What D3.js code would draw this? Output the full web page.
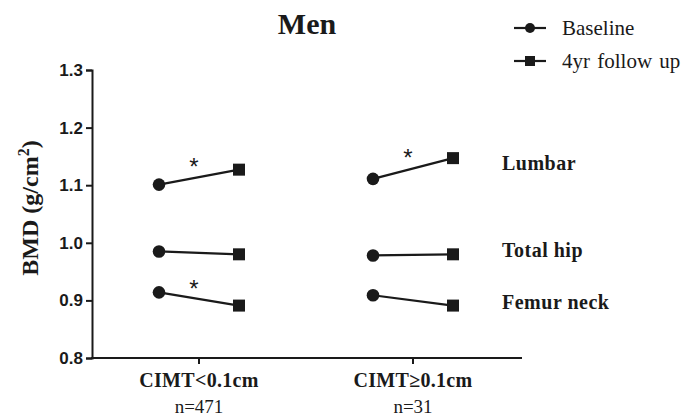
<!DOCTYPE html>
<html>
<head>
<meta charset="utf-8">
<script src="https://cdn.jsdelivr.net/npm/d3@7"></script>
<style>
  body { margin: 0; background: #fff; }
  svg { display: block; }
</style>
</head>
<body>
<script>
// Data
const groups = ["CIMT<0.1cm", "CIMT\u22650.1cm"];
const groupN = ["n=471", "n=31"];
const timepoints = ["Baseline", "4yr follow up"];
const sites = ["Lumbar", "Total hip", "Femur neck"];
// values per group: [baseline, follow-up] for each site
const lumbar = [[1.101, 1.127], [1.111, 1.147]];
const totalHip = [[0.985, 0.980], [0.978, 0.980]];
const femurNeck = [[0.914, 0.891], [0.909, 0.891]];
const significant = [[true, false, true], [true, false, false]];
const yTicks = [0.8, 0.9, 1.0, 1.1, 1.2, 1.3];

const width = 696, height = 419;
const ink = "#1a1a1a";
const serif = "'Liberation Serif', 'Times New Roman', serif";
const sans = "'Liberation Sans', Arial, sans-serif";

const svg = d3.select("body").append("svg")
  .attr("width", width)
  .attr("height", height);

// Scales
const y = d3.scaleLinear().domain([0.8, 1.3]).range([358, 70]);
const x = d3.scalePoint().domain(groups).range([199, 413]);
const offset = d3.scalePoint().domain(timepoints).range([-40, 40]);

// Y axis
const yAxis = svg.append("g")
  .attr("transform", "translate(92,0)")
  .call(d3.axisLeft(y).tickValues(yTicks).tickFormat(d3.format(".1f")).tickSizeOuter(0).tickSize(6));
yAxis.select(".domain").attr("stroke", ink).attr("stroke-width", 2);
yAxis.selectAll(".tick line").attr("stroke", ink).attr("stroke-width", 2);
yAxis.selectAll(".tick text")
  .attr("x", -9)
  .attr("fill", ink)
  .style("font-family", sans)
  .style("font-weight", "bold")
  .style("font-size", "17px");

// X axis
const xAxis = svg.append("g")
  .attr("transform", "translate(0,358)");
xAxis.append("line")
  .attr("x1", 91).attr("x2", 522)
  .attr("stroke", ink).attr("stroke-width", 2);
xAxis.selectAll(".xt")
  .data(groups)
  .enter().append("line")
  .attr("x1", (d) => x(d)).attr("x2", (d) => x(d))
  .attr("y1", 0).attr("y2", 6)
  .attr("stroke", ink).attr("stroke-width", 2);
xAxis.selectAll(".xl")
  .data(groups)
  .enter().append("text")
  .attr("x", (d) => x(d)).attr("y", 29)
  .attr("text-anchor", "middle")
  .attr("fill", ink)
  .style("font-family", serif)
  .style("font-weight", "bold")
  .style("font-size", "20px")
  .style("letter-spacing", "0.3px")
  .text((d) => d);
xAxis.selectAll(".xn")
  .data(groups)
  .enter().append("text")
  .attr("x", (d) => x(d)).attr("y", 55)
  .attr("text-anchor", "middle")
  .attr("fill", ink)
  .style("font-family", serif)
  .style("font-size", "19px")
  .text((d, i) => groupN[i]);

// Y label
const yl = svg.append("text")
  .attr("transform", "translate(38,208) rotate(-90)")
  .attr("text-anchor", "middle")
  .attr("fill", ink)
  .style("font-family", serif)
  .style("font-weight", "bold")
  .style("font-size", "24px");
yl.append("tspan").text("BMD (g/cm");
yl.append("tspan").attr("dy", -9).style("font-size", "16px").text("2");
yl.append("tspan").attr("dy", 9).text(")");

// Title
svg.append("text")
  .attr("x", 307).attr("y", 34)
  .attr("text-anchor", "middle")
  .attr("fill", ink)
  .style("font-family", serif)
  .style("font-weight", "bold")
  .style("font-size", "30px")
  .text("Men");

// Marks
const siteValues = [lumbar, totalHip, femurNeck];
const pairs = [];
siteValues.forEach((vals, s) => {
  groups.forEach((g, gi) => {
    pairs.push({ site: s, group: g, gi: gi, v: vals[gi], sig: significant[gi][s] });
  });
});

const px = (p, t) => x(p.group) + offset(timepoints[t]);

svg.selectAll(".pair")
  .data(pairs)
  .enter().append("line")
  .attr("x1", (d) => px(d, 0)).attr("y1", (d) => y(d.v[0]))
  .attr("x2", (d) => px(d, 1)).attr("y2", (d) => y(d.v[1]))
  .attr("stroke", ink).attr("stroke-width", 2.2);

svg.selectAll(".base")
  .data(pairs)
  .enter().append("circle")
  .attr("cx", (d) => px(d, 0)).attr("cy", (d) => y(d.v[0]))
  .attr("r", 6.3)
  .attr("fill", ink);

svg.selectAll(".follow")
  .data(pairs)
  .enter().append("rect")
  .attr("x", (d) => px(d, 1) - 6).attr("y", (d) => y(d.v[1]) - 6)
  .attr("width", 12).attr("height", 12)
  .attr("fill", ink);

// Significance stars, above the middle of each line
svg.selectAll(".star")
  .data(pairs.filter((d) => d.sig))
  .enter().append("text")
  .attr("x", (d) => x(d.group) - 5)
  .attr("y", (d) => y((d.v[0] + d.v[1]) / 2) - 2)
  .attr("text-anchor", "middle")
  .attr("fill", ink)
  .style("font-family", sans)
  .style("font-size", "24px")
  .text("*");

// Site labels, next to the right-hand follow-up marker
const labelDy = [12, 3, 3];
svg.selectAll(".site")
  .data(sites)
  .enter().append("text")
  .attr("x", 502)
  .attr("y", (d, i) => y(siteValues[i][1][1]) + labelDy[i])
  .attr("fill", ink)
  .style("font-family", serif)
  .style("font-weight", "bold")
  .style("font-size", "20px")
  .style("letter-spacing", "0.5px")
  .text((d) => d);

// Legend
const legend = svg.append("g").attr("transform", "translate(514,28)");
const li = legend.selectAll("g")
  .data(timepoints)
  .enter().append("g")
  .attr("transform", (d, i) => `translate(0,${i * 33})`);
li.append("line")
  .attr("x1", 0).attr("x2", 32)
  .attr("stroke", ink).attr("stroke-width", 2.2);
li.filter((d, i) => i === 0).append("circle")
  .attr("cx", 16).attr("r", 5).attr("fill", ink);
li.filter((d, i) => i === 1).append("rect")
  .attr("x", 11).attr("y", -5).attr("width", 10).attr("height", 10).attr("fill", ink);
li.append("text")
  .attr("x", 48).attr("y", 7)
  .attr("fill", ink)
  .style("font-family", serif)
  .style("font-size", "21px")
  .style("word-spacing", "2px")
  .text((d) => d);
</script>
</body>
</html>
